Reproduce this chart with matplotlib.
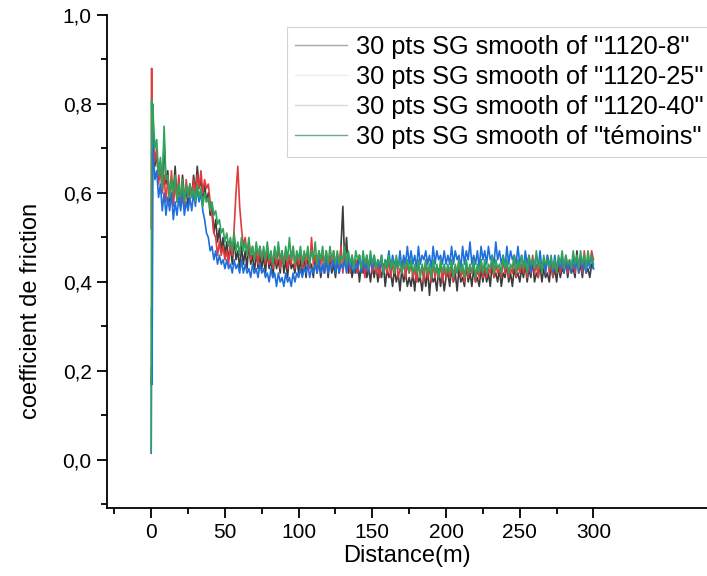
import numpy as np
import matplotlib
matplotlib.use("Agg")
import matplotlib.pyplot as plt
from matplotlib.lines import Line2D
from matplotlib.ticker import MultipleLocator, FuncFormatter

plt.rcParams['font.family'] = ['Liberation Sans', 'DejaVu Sans']

# start of each run (0 - 1 m), read by eye
start_dist = [0.0, 0.3, 0.6, 1.0]
start_8 = [0.17, 0.21, 0.19, 0.76]
start_25 = [0.52, 0.88, 0.55, 0.80]
start_40 = [0.015, 0.34, 0.17, 0.74]
start_tem = [0.02, 0.81, 0.70, 0.80]

# rest of the runs, one reading every 1.25 m from 1.25 to 300 m (20 per row = 25 m)
dist = np.arange(1.25, 300.01, 1.25)

mu_8 = [0.72, 0.66, 0.69, 0.63, 0.67, 0.60, 0.72, 0.62, 0.65, 0.58, 0.63, 0.60, 0.66, 0.58, 0.62, 0.57, 0.64, 0.59, 0.61, 0.57,
        0.62, 0.59, 0.64, 0.60, 0.66, 0.61, 0.63, 0.59, 0.62, 0.58, 0.60, 0.55, 0.57, 0.51, 0.54, 0.49, 0.52, 0.47, 0.50, 0.46,
        0.49, 0.45, 0.48, 0.44, 0.50, 0.45, 0.47, 0.43, 0.48, 0.44, 0.47, 0.43, 0.49, 0.44, 0.46, 0.42, 0.47, 0.43, 0.46, 0.43,
        0.46, 0.42, 0.47, 0.43, 0.45, 0.41, 0.46, 0.43, 0.45, 0.42, 0.47, 0.42, 0.45, 0.41, 0.46, 0.43, 0.44, 0.42, 0.46, 0.42,
        0.45, 0.42, 0.46, 0.41, 0.45, 0.43, 0.44, 0.41, 0.46, 0.42, 0.45, 0.41, 0.44, 0.42, 0.46, 0.41, 0.45, 0.42, 0.44, 0.41,
        0.45, 0.42, 0.48, 0.57, 0.44, 0.50, 0.42, 0.45, 0.41, 0.44, 0.42, 0.45, 0.40, 0.44, 0.42, 0.45, 0.41, 0.43, 0.40, 0.44,
        0.41, 0.44, 0.40, 0.43, 0.41, 0.44, 0.39, 0.43, 0.41, 0.42, 0.39, 0.43, 0.40, 0.42, 0.38, 0.43, 0.40, 0.42, 0.39, 0.41,
        0.39, 0.42, 0.38, 0.43, 0.40, 0.41, 0.38, 0.42, 0.39, 0.43, 0.37, 0.42, 0.40, 0.41, 0.38, 0.43, 0.39, 0.42, 0.38, 0.41,
        0.42, 0.39, 0.43, 0.40, 0.42, 0.38, 0.43, 0.40, 0.41, 0.39, 0.44, 0.40, 0.42, 0.39, 0.43, 0.40, 0.41, 0.39, 0.43, 0.40,
        0.43, 0.40, 0.42, 0.39, 0.44, 0.41, 0.42, 0.40, 0.43, 0.39, 0.42, 0.41, 0.44, 0.40, 0.42, 0.39, 0.43, 0.41, 0.42, 0.40,
        0.43, 0.41, 0.44, 0.40, 0.43, 0.41, 0.45, 0.40, 0.42, 0.41, 0.44, 0.40, 0.43, 0.41, 0.42, 0.40, 0.44, 0.41, 0.43, 0.40,
        0.44, 0.41, 0.43, 0.42, 0.45, 0.41, 0.44, 0.42, 0.43, 0.41, 0.47, 0.42, 0.44, 0.41, 0.45, 0.42, 0.43, 0.41, 0.44, 0.43]

mu_25 = [0.74, 0.67, 0.70, 0.62, 0.66, 0.60, 0.64, 0.58, 0.63, 0.59, 0.65, 0.57, 0.62, 0.59, 0.64, 0.58, 0.61, 0.57, 0.63, 0.59,
         0.62, 0.59, 0.63, 0.60, 0.64, 0.61, 0.65, 0.60, 0.63, 0.61, 0.62, 0.58, 0.55, 0.51, 0.50, 0.46, 0.49, 0.46, 0.48, 0.45,
         0.47, 0.44, 0.49, 0.46, 0.52, 0.60, 0.66, 0.57, 0.52, 0.48, 0.50, 0.46, 0.49, 0.45, 0.48, 0.45, 0.47, 0.44, 0.48, 0.45,
         0.47, 0.44, 0.48, 0.44, 0.46, 0.43, 0.47, 0.44, 0.48, 0.43, 0.46, 0.44, 0.47, 0.43, 0.46, 0.44, 0.48, 0.43, 0.46, 0.44,
         0.47, 0.43, 0.46, 0.44, 0.47, 0.43, 0.50, 0.44, 0.46, 0.43, 0.47, 0.44, 0.46, 0.42, 0.47, 0.43, 0.46, 0.44, 0.47, 0.43,
         0.46, 0.43, 0.48, 0.42, 0.46, 0.43, 0.45, 0.42, 0.46, 0.43, 0.45, 0.42, 0.46, 0.43, 0.45, 0.41, 0.46, 0.43, 0.45, 0.42,
         0.45, 0.42, 0.44, 0.41, 0.45, 0.42, 0.44, 0.42, 0.45, 0.41, 0.44, 0.42, 0.45, 0.41, 0.43, 0.42, 0.45, 0.41, 0.44, 0.42,
         0.44, 0.41, 0.43, 0.40, 0.44, 0.42, 0.43, 0.40, 0.45, 0.41, 0.43, 0.40, 0.44, 0.41, 0.43, 0.41, 0.44, 0.40, 0.43, 0.41,
         0.43, 0.41, 0.44, 0.40, 0.43, 0.42, 0.45, 0.41, 0.43, 0.40, 0.44, 0.41, 0.43, 0.42, 0.44, 0.40, 0.43, 0.41, 0.45, 0.41,
         0.44, 0.41, 0.43, 0.42, 0.45, 0.41, 0.44, 0.42, 0.43, 0.41, 0.45, 0.42, 0.44, 0.41, 0.43, 0.42, 0.46, 0.41, 0.44, 0.42,
         0.44, 0.42, 0.45, 0.41, 0.44, 0.42, 0.46, 0.42, 0.44, 0.41, 0.45, 0.43, 0.44, 0.42, 0.46, 0.42, 0.44, 0.41, 0.45, 0.42,
         0.45, 0.42, 0.44, 0.43, 0.46, 0.42, 0.45, 0.43, 0.44, 0.42, 0.46, 0.43, 0.45, 0.42, 0.47, 0.43, 0.45, 0.44, 0.47, 0.45]

mu_40 = [0.70, 0.63, 0.65, 0.59, 0.62, 0.56, 0.60, 0.55, 0.59, 0.56, 0.60, 0.54, 0.58, 0.55, 0.59, 0.56, 0.60, 0.55, 0.58, 0.56,
         0.59, 0.56, 0.60, 0.57, 0.61, 0.58, 0.60, 0.56, 0.54, 0.51, 0.50, 0.47, 0.48, 0.45, 0.47, 0.44, 0.46, 0.44, 0.45, 0.43,
         0.45, 0.43, 0.44, 0.42, 0.45, 0.43, 0.44, 0.42, 0.45, 0.42, 0.44, 0.42, 0.43, 0.41, 0.44, 0.42, 0.43, 0.41, 0.44, 0.42,
         0.43, 0.41, 0.42, 0.40, 0.43, 0.41, 0.42, 0.39, 0.42, 0.40, 0.41, 0.39, 0.42, 0.40, 0.41, 0.39, 0.42, 0.40, 0.42, 0.41,
         0.43, 0.41, 0.43, 0.42, 0.44, 0.41, 0.43, 0.42, 0.44, 0.42, 0.45, 0.42, 0.44, 0.42, 0.45, 0.42, 0.44, 0.43, 0.45, 0.42,
         0.45, 0.42, 0.44, 0.43, 0.45, 0.42, 0.46, 0.43, 0.45, 0.42, 0.44, 0.43, 0.46, 0.42, 0.45, 0.43, 0.44, 0.42, 0.46, 0.43,
         0.46, 0.43, 0.45, 0.43, 0.46, 0.42, 0.45, 0.44, 0.47, 0.43, 0.46, 0.44, 0.45, 0.43, 0.47, 0.43, 0.46, 0.44, 0.48, 0.44,
         0.47, 0.44, 0.46, 0.43, 0.48, 0.44, 0.46, 0.45, 0.47, 0.44, 0.46, 0.43, 0.48, 0.44, 0.47, 0.45, 0.46, 0.44, 0.47, 0.44,
         0.46, 0.44, 0.48, 0.44, 0.47, 0.45, 0.46, 0.43, 0.48, 0.44, 0.47, 0.45, 0.49, 0.44, 0.46, 0.44, 0.47, 0.43, 0.48, 0.45,
         0.47, 0.44, 0.48, 0.45, 0.46, 0.44, 0.49, 0.45, 0.47, 0.44, 0.46, 0.43, 0.48, 0.44, 0.47, 0.45, 0.46, 0.44, 0.48, 0.44,
         0.46, 0.43, 0.47, 0.44, 0.46, 0.42, 0.45, 0.44, 0.46, 0.43, 0.47, 0.43, 0.45, 0.42, 0.46, 0.44, 0.45, 0.42, 0.46, 0.43,
         0.45, 0.43, 0.46, 0.42, 0.45, 0.43, 0.44, 0.42, 0.46, 0.43, 0.45, 0.42, 0.46, 0.43, 0.44, 0.42, 0.45, 0.43, 0.46, 0.43]

mu_tem = [0.78, 0.70, 0.72, 0.64, 0.68, 0.61, 0.75, 0.63, 0.64, 0.59, 0.63, 0.60, 0.64, 0.58, 0.62, 0.59, 0.63, 0.58, 0.62, 0.59,
          0.62, 0.59, 0.61, 0.58, 0.62, 0.59, 0.61, 0.57, 0.60, 0.58, 0.59, 0.56, 0.58, 0.55, 0.56, 0.53, 0.54, 0.51, 0.52, 0.49,
          0.51, 0.48, 0.50, 0.47, 0.51, 0.47, 0.49, 0.46, 0.50, 0.47, 0.49, 0.46, 0.50, 0.46, 0.48, 0.45, 0.49, 0.46, 0.48, 0.45,
          0.48, 0.45, 0.49, 0.45, 0.47, 0.44, 0.48, 0.45, 0.49, 0.45, 0.47, 0.44, 0.48, 0.45, 0.50, 0.45, 0.48, 0.44, 0.47, 0.45,
          0.48, 0.44, 0.47, 0.45, 0.48, 0.44, 0.47, 0.45, 0.49, 0.44, 0.47, 0.45, 0.48, 0.44, 0.47, 0.44, 0.48, 0.45, 0.47, 0.44,
          0.47, 0.44, 0.46, 0.45, 0.48, 0.44, 0.47, 0.44, 0.46, 0.43, 0.47, 0.45, 0.46, 0.43, 0.47, 0.44, 0.46, 0.43, 0.47, 0.44,
          0.46, 0.43, 0.45, 0.44, 0.46, 0.42, 0.45, 0.43, 0.46, 0.43, 0.45, 0.42, 0.46, 0.43, 0.45, 0.42, 0.44, 0.43, 0.45, 0.42,
          0.45, 0.42, 0.44, 0.42, 0.45, 0.41, 0.44, 0.42, 0.45, 0.42, 0.44, 0.41, 0.45, 0.42, 0.44, 0.41, 0.45, 0.42, 0.44, 0.42,
          0.44, 0.42, 0.45, 0.41, 0.44, 0.42, 0.45, 0.42, 0.44, 0.41, 0.45, 0.42, 0.44, 0.42, 0.45, 0.41, 0.44, 0.42, 0.45, 0.42,
          0.45, 0.42, 0.44, 0.43, 0.46, 0.42, 0.45, 0.43, 0.44, 0.42, 0.46, 0.43, 0.45, 0.42, 0.44, 0.43, 0.46, 0.42, 0.45, 0.43,
          0.46, 0.43, 0.45, 0.42, 0.46, 0.44, 0.45, 0.43, 0.47, 0.43, 0.45, 0.42, 0.46, 0.44, 0.45, 0.43, 0.46, 0.43, 0.45, 0.42,
          0.46, 0.44, 0.47, 0.43, 0.46, 0.44, 0.45, 0.43, 0.47, 0.44, 0.46, 0.43, 0.47, 0.44, 0.46, 0.43, 0.47, 0.44, 0.46, 0.44]

labels = ['30 pts SG smooth of "1120-8"', '30 pts SG smooth of "1120-25"',
          '30 pts SG smooth of "1120-40"', '30 pts SG smooth of "témoins"']
line_colors = ['#3c3c3c', '#e23a3c', '#1f6fde', '#2fa35c']
legend_colors = ['#a8a8a8', '#f4eded', '#d6dbe3', '#6aa996']

fig = plt.figure(figsize=(7.07, 5.76), dpi=100)
ax = fig.add_axes([0.1513, 0.118, 0.8487, 0.856])

series = [(start_8, mu_8), (start_25, mu_25), (start_40, mu_40), (start_tem, mu_tem)]
for (s, m), c in zip(series, line_colors):
    x = np.concatenate([start_dist, dist])
    y = np.concatenate([s, m])
    ax.plot(x, y, color=c, lw=1.2)

ax.set_xlim(-30, 377)
ax.set_ylim(-0.108, 1.0)

for side in ['top', 'right']:
    ax.spines[side].set_visible(False)
for side in ['left', 'bottom']:
    ax.spines[side].set_linewidth(1.3)

ax.yaxis.set_major_locator(MultipleLocator(0.2))
ax.yaxis.set_minor_locator(MultipleLocator(0.1))
ax.yaxis.set_major_formatter(FuncFormatter(lambda v, p: f"{v:.1f}".replace('.', ',')))
ax.set_xticks([t for t in range(0, 301, 50)])
ax.set_xticks([t for t in range(-25, 276, 50)], minor=True)
ax.tick_params(which='major', direction='out', length=7, width=1.3, labelsize=15, pad=4)
ax.tick_params(which='minor', direction='out', length=4, width=1.3)

ax.set_xlabel('Distance(m)', fontsize=17, labelpad=2)
ax.set_ylabel('coefficient de friction', fontsize=17)
ax.yaxis.set_label_coords(-0.108, 0.40)

handles = [Line2D([0], [0], color=c, lw=1.0) for c in legend_colors]
leg = fig.legend(handles, labels, loc='upper left', bbox_to_anchor=(287 / 707, 1 - 27 / 576),
                 fontsize=18.3, frameon=True, fancybox=False, labelspacing=0.24,
                 handlelength=2.05, handletextpad=0.35, borderpad=0.3, borderaxespad=0)
leg.get_frame().set_edgecolor('#c8c8c8')
leg.get_frame().set_linewidth(0.8)

fig.savefig('out.png', dpi=100)
